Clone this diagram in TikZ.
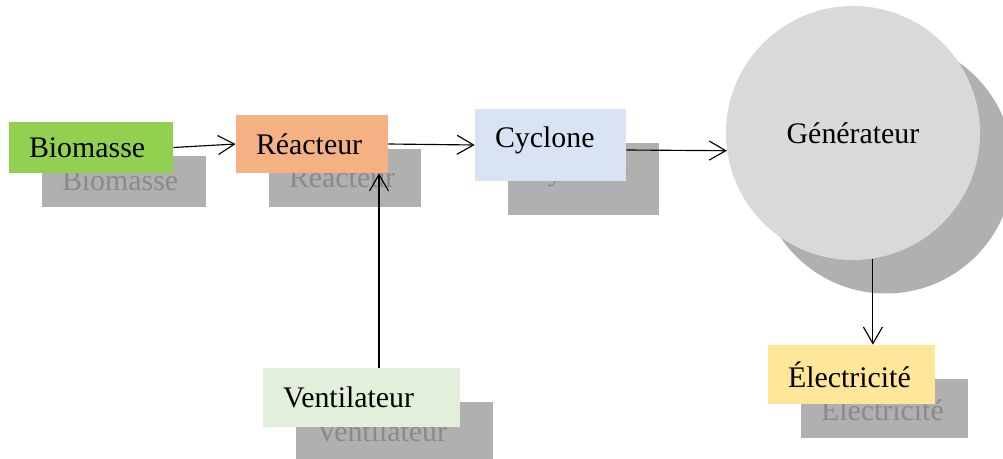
\documentclass[tikz,border=0pt]{standalone}
\usepackage{fontspec}
\setmainfont{Liberation Serif}
\usepackage{xcolor}
\usepackage{tikz}
\usetikzlibrary{arrows.meta, calc}
\definecolor{biogreen}{HTML}{92D050}
\definecolor{reaorange}{HTML}{F4B183}
\definecolor{cycblue}{HTML}{DAE3F3}
\definecolor{venlight}{HTML}{E2EFDA}
\definecolor{eleyellow}{HTML}{FFE699}
\definecolor{gengray}{HTML}{D9D9D9}
\definecolor{shadegray}{HTML}{B0B0B0}
\definecolor{shadetext}{HTML}{8A8A8A}
\tikzset{
  pbox/.style={rectangle, inner xsep=0.4cm, inner ysep=0pt, align=left, font=\fontsize{17}{20}\selectfont},
  shadebox/.style={pbox, fill=shadegray, text=shadetext},
  cycbox/.style={text width=2.22cm, text height=0.76cm, text depth=0.68cm},
  gcirc/.style={circle, minimum size=5.08cm, inner sep=0pt, font=\fontsize{17}{20}\selectfont},
  arr/.style={-{Straight Barb[length=3.3mm, width=3.8mm]}, line width=0.65pt},
}

\begin{document}
\begin{tikzpicture}
\useasboundingbox (0,0) rectangle (20.06,-9.18);
% shadows
\node[shadebox, text width=2.48cm, minimum height=1.02cm] (bios) at (2.48,-3.62) {Biomasse};
\node[shadebox, text width=2.24cm, minimum height=1.16cm] (reas) at (6.90,-3.55) {Réacteur};
\node[shadebox, cycbox] (cycs) at (11.67,-3.57) {Cyclone};
\node[gcirc, fill=shadegray] (gens) at (17.72,-3.33) {};
\node[shadebox, text width=3.14cm, minimum height=1.18cm] (vens) at (7.89,-8.62) {Ventilateur};
\node[shadebox, text width=2.54cm, minimum height=1.18cm] (eles) at (17.69,-8.16) {Électricité};
% boxes
\node[pbox, fill=biogreen, text width=2.48cm, minimum height=1.02cm] (bio) at (1.82,-2.95) {Biomasse};
\node[pbox, fill=reaorange, text width=2.24cm, minimum height=1.16cm] (rea) at (6.24,-2.88) {Réacteur};
\node[pbox, fill=cycblue, cycbox] (cyc) at (11.01,-2.90) {Cyclone};
\node[gcirc, fill=gengray] (gen) at (17.06,-2.66) {Générateur};
\node[pbox, fill=venlight, text width=3.14cm, minimum height=1.18cm] (ven) at (7.23,-7.95) {Ventilateur};
\node[pbox, fill=eleyellow, text width=2.54cm, minimum height=1.18cm] (ele) at (17.03,-7.49) {Électricité};
% flows
\draw[arr] (bio.east) -- (rea.west);
\draw[arr] (rea.east) -- (cyc.west);
\draw[arr] ([yshift=-0.1cm]cyc.east) -- (gen.188);
\draw[arr] (gen.-81) -- (gen.-81 |- ele.north);
\draw[arr] ([xshift=0.35cm]ven.north) -- ([xshift=0.35cm]ven.north |- rea.south);
\end{tikzpicture}
\end{document}
